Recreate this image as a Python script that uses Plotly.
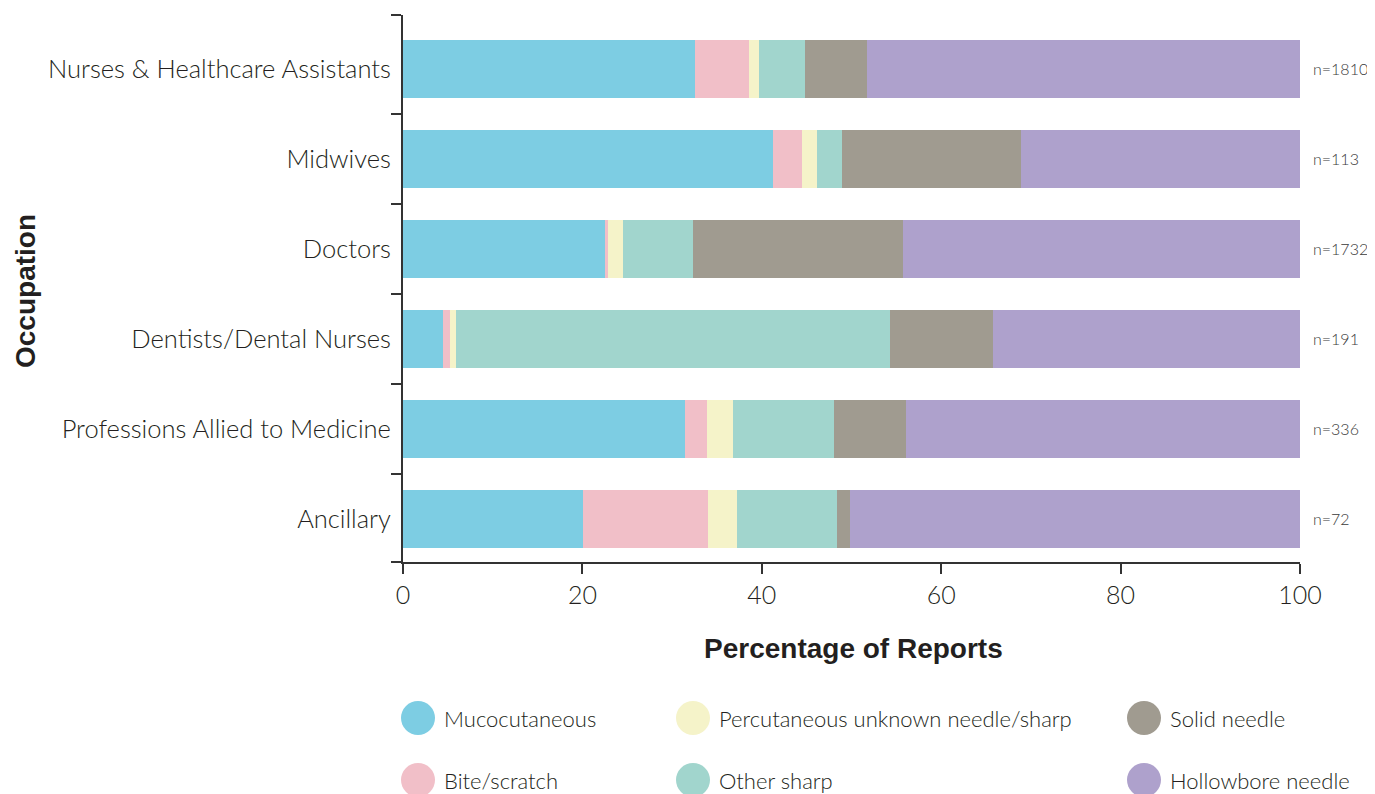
import plotly.graph_objects as go

occupations = ["Nurses & Healthcare Assistants", "Midwives", "Doctors",
               "Dentists/Dental Nurses", "Professions Allied to Medicine", "Ancillary"]
n_reports = [1810, 113, 1732, 191, 336, 72]

mucocutaneous = [32.6, 41.2, 22.5, 4.5, 31.4, 20.1]
bite_scratch = [6.0, 3.3, 0.4, 0.7, 2.5, 13.9]
percutaneous_unknown = [1.1, 1.7, 1.6, 0.7, 2.9, 3.2]
other_sharp = [5.1, 2.7, 7.8, 48.4, 11.2, 11.2]
solid_needle = [6.9, 20.0, 23.4, 11.5, 8.1, 1.4]
hollowbore_needle = [48.3, 31.1, 44.3, 34.2, 43.9, 50.2]

series_names = ["Mucocutaneous", "Bite/scratch", "Percutaneous unknown needle/sharp",
                "Other sharp", "Solid needle", "Hollowbore needle"]
series_values = [mucocutaneous, bite_scratch, percutaneous_unknown,
                 other_sharp, solid_needle, hollowbore_needle]
series_colors = ["#7DCDE3", "#F1BFC8", "#F5F3C9", "#A1D5CD", "#A09B90", "#AEA1CC"]

x_ticks = [0, 20, 40, 60, 80, 100]

LIGHT = dict(family="Lato", weight=300, color="#231f20")

# numeric positions: first category at top
ypos = [len(occupations) - 1 - i for i in range(len(occupations))]

fig = go.Figure()
for name, vals, col in zip(series_names, series_values, series_colors):
    fig.add_trace(go.Bar(
        x=vals, y=ypos, orientation="h", name=name,
        marker=dict(color=col, line=dict(width=0)),
        width=0.64, showlegend=False,
    ))

# n= annotations
for yp, n in zip(ypos, n_reports):
    fig.add_annotation(x=100, y=yp, xref="x", yref="y", text=f"n={n}",
                       showarrow=False, xanchor="left", xshift=11,
                       font=dict(size=16, family="Lato", weight=300, color="#3a3a3a"))

OFF = 8  # page body margin
W, H = 1375 - OFF, 794 - OFF
L, T = 403 - OFF, 15 - OFF
R = W - (1300 - OFF)
B = H - (562 - OFF)
pw, ph = W - L - R, H - T - B

def px_to_paper(xs, ys):
    xp, yp = xs - OFF, ys - OFF
    return (xp - L) / pw, (H - B - yp) / ph

# custom legend (three columns, two rows)
legend_layout = [(0, 0), (1, 0), (0, 1), (1, 1), (0, 2), (1, 2)]  # (row, col) per series
col_x = [418, 693, 1144]
row_y = [718, 780]
for (r, c), name, col in zip(legend_layout, series_names, series_colors):
    cx, cy = px_to_paper(col_x[c], row_y[r])
    fig.add_shape(type="circle", xref="paper", yref="paper",
                  xsizemode="pixel", ysizemode="pixel",
                  xanchor=cx, yanchor=cy, x0=-17, x1=17, y0=-17, y1=17,
                  fillcolor=col, line=dict(width=0))
    tx, ty = px_to_paper(col_x[c] + 24, row_y[r])
    fig.add_annotation(x=tx, y=ty, xref="paper", yref="paper", text=name,
                       showarrow=False, xanchor="left", yanchor="middle",
                       font=dict(size=22, **LIGHT))

# axis titles
tx, ty = px_to_paper(853, 648)
fig.add_annotation(x=tx, y=ty, xref="paper", yref="paper", text="<b>Percentage of Reports</b>",
                   showarrow=False, xanchor="center", yanchor="middle",
                   font=dict(family="Liberation Sans, Arial", size=28, color="#231f20"))
tx, ty = px_to_paper(25, 291)
fig.add_annotation(x=tx, y=ty, xref="paper", yref="paper", text="<b>Occupation</b>",
                   showarrow=False, xanchor="center", yanchor="middle", textangle=-90,
                   font=dict(family="Liberation Sans, Arial", size=28, color="#231f20"))

n = len(occupations)
boundaries = [-0.48] + [i + 0.5 for i in range(n - 1)] + [n - 0.4]

fig.update_layout(
    barmode="stack",
    width=W, height=H,
    margin=dict(l=L, r=R, t=T, b=B, pad=0),
    plot_bgcolor="white", paper_bgcolor="white",
    bargap=0,
    xaxis=dict(range=[0, 100], tickvals=x_ticks, ticks="outside", ticklen=10,
               tickwidth=2, tickcolor="#333", showline=True, linewidth=2,
               linecolor="#333", showgrid=False, zeroline=False,
               tickfont=dict(size=25, **LIGHT), fixedrange=True),
    yaxis=dict(range=[-0.48, n - 0.4], tickvals=ypos, ticktext=occupations,
               ticks="", showline=True, linewidth=2, linecolor="#333",
               showgrid=False, zeroline=False, ticklabelstandoff=5,
               tickfont=dict(size=25.5, **LIGHT),
               minor=dict(tickmode="array", tickvals=boundaries, ticks="outside",
                          ticklen=10, tickwidth=2, tickcolor="#333", showgrid=False)),
)

fig.write_html("out.html")
